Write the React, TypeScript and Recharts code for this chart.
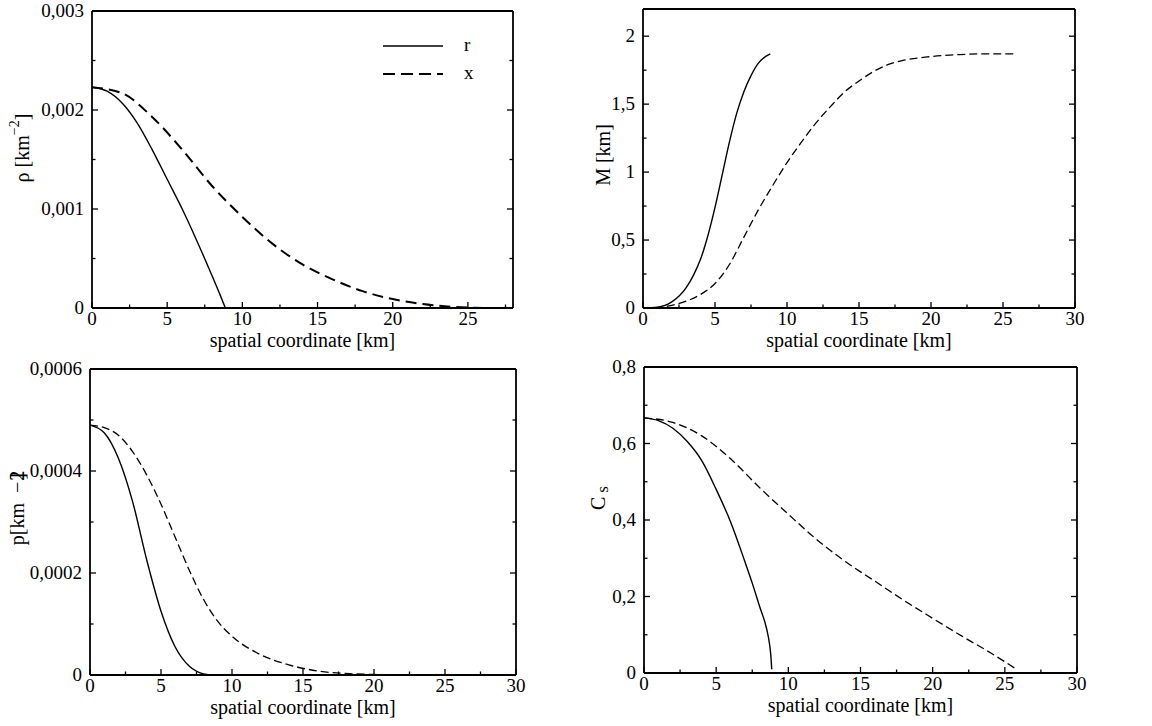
import React from "react"
import { LineChart, Line, XAxis, YAxis, Legend } from "recharts"

const FONT = '"Liberation Serif", "Times New Roman", Times, serif'

// spatial coordinate [km] and values

// density rho
const rhoRKm = [0, 1, 2, 3, 4, 5, 6, 7, 8, 8.5, 8.87]
const rhoRVal = [0.00223, 0.00219, 0.00207, 0.00187, 0.0016, 0.0013, 0.001, 0.00067, 0.00032, 0.00014, 0]
const rhoXKm = [0, 2, 4, 6, 8, 10, 12, 14, 16, 18, 20, 22, 24, 26]
const rhoXVal = [0.00223, 0.00217, 0.00193, 0.0016, 0.00123, 0.00092, 0.00065, 0.00044, 0.00029, 0.00017, 0.00009, 0.00004, 0.000012, 0]

// mass M
const mRKm = [0, 1, 2, 3, 3.5, 4, 4.5, 5, 5.5, 6, 6.5, 7, 7.5, 8, 8.5, 8.84]
const mRVal = [0, 0.006, 0.045, 0.15, 0.24, 0.36, 0.53, 0.74, 0.98, 1.22, 1.43, 1.59, 1.71, 1.8, 1.85, 1.87]
const mXKm = [0, 1, 2, 3, 4, 5, 6, 7, 8, 9, 10, 11, 12, 13, 14, 15, 16, 17, 18, 20, 22, 24, 25.9]
const mXVal = [0, 0.003, 0.02, 0.05, 0.1, 0.18, 0.32, 0.52, 0.72, 0.9, 1.07, 1.22, 1.36, 1.48, 1.59, 1.67, 1.74, 1.79, 1.82, 1.85, 1.865, 1.87, 1.87]

// pressure p
const pRKm = [0, 1, 2, 3, 4, 5, 6, 7, 8, 8.5]
const pRVal = [0.00049, 0.000475, 0.000425, 0.00034, 0.000225, 0.000125, 0.000055, 0.000017, 0.000002, 0]
const pXKm = [0, 1, 2, 3, 4, 5, 6, 7, 8, 9, 10, 12, 14, 16, 18, 20, 22, 25.9]
const pXVal = [0.00049, 0.000485, 0.00047, 0.000438, 0.000392, 0.000335, 0.00027, 0.000205, 0.000148, 0.000105, 0.000076, 0.00004, 0.00002, 0.000008, 0.000003, 0.000001, 0, 0]

// sound speed C_s
const csRKm = [0, 1, 2, 3, 4, 5, 6, 7, 7.5, 8, 8.5, 8.7, 8.8, 8.85]
const csRVal = [0.667, 0.66, 0.64, 0.605, 0.555, 0.48, 0.395, 0.29, 0.235, 0.175, 0.115, 0.075, 0.04, 0.01]
const csXKm = [0, 2, 4, 6, 8, 10, 12, 14, 16, 18, 20, 22, 24, 25.8]
const csXVal = [0.667, 0.655, 0.62, 0.56, 0.485, 0.415, 0.348, 0.29, 0.24, 0.19, 0.143, 0.097, 0.053, 0.01]

// ticks (all) and labelled ticks
const x28Ticks = [0, 2.5, 5, 7.5, 10, 12.5, 15, 17.5, 20, 22.5, 25, 27.5]
const x30Ticks = [0, 2.5, 5, 7.5, 10, 12.5, 15, 17.5, 20, 22.5, 25, 27.5, 30]
const xMajor = [0, 5, 10, 15, 20, 25, 30]
const rhoTicks = [0, 0.0005, 0.001, 0.0015, 0.002, 0.0025, 0.003]
const rhoMajor = [0, 0.001, 0.002, 0.003]
const mTicks = [0, 0.25, 0.5, 0.75, 1, 1.25, 1.5, 1.75, 2]
const mMajor = [0, 0.5, 1, 1.5, 2]
const pTicks = [0, 0.0001, 0.0002, 0.0003, 0.0004, 0.0005, 0.0006]
const pMajor = [0, 0.0002, 0.0004, 0.0006]
const csTicks = [0, 0.1, 0.2, 0.3, 0.4, 0.5, 0.6, 0.7, 0.8]
const csMajor = [0, 0.2, 0.4, 0.6, 0.8]

const zip = (xs: number[], vs: number[]) => xs.map((x, i) => ({ x, v: vs[i] }))
const fmt = (v: number) => String(v).replace(".", ",")

function AxisTick(props: any) {
  const { x, y, payload, side, majors, showLabel } = props
  const val = payload.value
  const major = majors.some((m: number) => Math.abs(m - val) < 1e-12)
  const len = major ? 6 : 3.5
  const st = { stroke: "#000", strokeWidth: 1.3 }
  const txt = { fontFamily: FONT, fontSize: 19, fill: "#000" }
  if (side === "bottom") {
    return (
      <g>
        <line x1={x} x2={x} y1={y} y2={y - len} {...st} />
        {major && showLabel && (
          <text x={x} y={y + 17} textAnchor="middle" {...txt}>{fmt(val)}</text>
        )}
      </g>
    )
  }
  if (side === "top") {
    return <line x1={x} x2={x} y1={y} y2={y + len} {...st} />
  }
  if (side === "left") {
    return (
      <g>
        <line x1={x} x2={x + len} y1={y} y2={y} {...st} />
        {major && showLabel && (
          <text x={x - 8} y={y + 6} textAnchor="end" {...txt}>{fmt(val)}</text>
        )}
      </g>
    )
  }
  return <line x1={x} x2={x - len} y1={y} y2={y} {...st} />
}

const axisLine = { stroke: "#000", strokeWidth: 1.8 }

interface PanelProps {
  left: number
  top: number
  margin: { top: number; right: number }
  yWidth: number
  xHeight: number
  xDomain: number[]
  xTicks: number[]
  yDomain: number[]
  yTicks: number[]
  yMajor: number[]
  solid: { x: number; v: number }[]
  dashed: { x: number; v: number }[]
  dash: string
  dashWidth: number
  title: React.ReactNode
  titleX: number
  titleY: number
  legend?: boolean
}

function LegendBox() {
  return (
    <svg width={110} height={60} style={{ overflow: "visible" }}>
      <line x1={4} x2={64} y1={16} y2={16} stroke="#000" strokeWidth={1.3} />
      <text x={85} y={21} fontFamily={FONT} fontSize={19}>r</text>
      <line x1={4} x2={64} y1={44} y2={44} stroke="#000" strokeWidth={2} strokeDasharray="12 6" />
      <text x={85} y={49} fontFamily={FONT} fontSize={19}>x</text>
    </svg>
  )
}

function Panel(p: PanelProps) {
  return (
    <div style={{ position: "absolute", left: p.left, top: p.top }}>
      <LineChart
        width={576}
        height={363}
        margin={{ top: p.margin.top - 1, right: p.margin.right - 1, bottom: 0, left: 0 }}
      >
        <XAxis
          xAxisId="b"
          dataKey="x"
          type="number"
          domain={p.xDomain}
          ticks={p.xTicks}
          interval={0}
          allowDataOverflow
          height={p.xHeight}
          tickSize={0}
          tickMargin={0}
          tickLine={false}
          axisLine={axisLine}
          tick={<AxisTick side="bottom" majors={xMajor} showLabel />}
          label={{
            content: ({ viewBox }: any) => (
              <text
                x={viewBox.x + viewBox.width / 2}
                y={viewBox.y + 39}
                textAnchor="middle"
                fontFamily={FONT}
                fontSize={20}
                fill="#000"
              >
                spatial coordinate [km]
              </text>
            ),
          }}
        />
        <XAxis
          xAxisId="t"
          orientation="top"
          type="number"
          domain={p.xDomain}
          ticks={p.xTicks}
          interval={0}
          allowDataOverflow
          height={1}
          tickSize={0}
          tickMargin={0}
          tickLine={false}
          axisLine={axisLine}
          tick={<AxisTick side="top" majors={xMajor} />}
        />
        <YAxis
          yAxisId="l"
          type="number"
          domain={p.yDomain}
          ticks={p.yTicks}
          interval={0}
          allowDataOverflow
          width={p.yWidth}
          tickSize={0}
          tickMargin={0}
          tickLine={false}
          axisLine={axisLine}
          tick={<AxisTick side="left" majors={p.yMajor} showLabel />}
          label={{
            content: () => (
              <text
                x={p.titleX}
                y={p.titleY}
                transform={`rotate(-90 ${p.titleX} ${p.titleY})`}
                textAnchor="middle"
                dominantBaseline="central"
                fontFamily={FONT}
                fontSize={20}
                fill="#000"
              >
                {p.title}
              </text>
            ),
          }}
        />
        <YAxis
          yAxisId="r"
          orientation="right"
          type="number"
          domain={p.yDomain}
          ticks={p.yTicks}
          interval={0}
          allowDataOverflow
          width={1}
          tickSize={0}
          tickMargin={0}
          tickLine={false}
          axisLine={axisLine}
          tick={<AxisTick side="right" majors={p.yMajor} />}
        />
        {p.legend && (
          <Legend
            layout="horizontal"
            verticalAlign="middle"
            align="center"
            content={() => <LegendBox />}
            wrapperStyle={{ left: 379, top: 30, width: 110, height: 60 }}
          />
        )}
        <Line
          xAxisId="b"
          yAxisId="l"
          name="r"
          data={p.solid}
          dataKey="v"
          type="monotone"
          dot={false}
          stroke="#000"
          strokeWidth={1.4}
          isAnimationActive={false}
        />
        <Line
          xAxisId="b"
          yAxisId="l"
          name="x"
          data={p.dashed}
          dataKey="v"
          type="monotone"
          dot={false}
          stroke="#000"
          strokeWidth={p.dashWidth}
          strokeDasharray={p.dash}
          isAnimationActive={false}
        />
      </LineChart>
    </div>
  )
}

export default function App() {
  return (
    <div
      style={{
        position: "absolute",
        left: 0,
        top: 0,
        width: 1152,
        height: 726,
        background: "#fff",
        overflow: "hidden",
      }}
    >
      <style>{"svg { overflow: visible; }"}</style>
      <Panel
        left={0}
        top={0}
        margin={{ top: 11, right: 63 }}
        yWidth={92}
        xHeight={55}
        xDomain={[0, 28]}
        xTicks={x28Ticks}
        yDomain={[0, 0.003]}
        yTicks={rhoTicks}
        yMajor={rhoMajor}
        solid={zip(rhoRKm, rhoRVal)}
        dashed={zip(rhoXKm, rhoXVal)}
        dash="11 6"
        dashWidth={2}
        title={
          <>
            ρ [km<tspan dy={-8} fontSize={14}>−2</tspan>
            <tspan dy={8}>]</tspan>
          </>
        }
        titleX={22}
        titleY={148}
        legend
      />
      <Panel
        left={576}
        top={0}
        margin={{ top: 9, right: 77 }}
        yWidth={67}
        xHeight={55}
        xDomain={[0, 30]}
        xTicks={x30Ticks}
        yDomain={[0, 2.2]}
        yTicks={mTicks}
        yMajor={mMajor}
        solid={zip(mRKm, mRVal)}
        dashed={zip(mXKm, mXVal)}
        dash="8 4"
        dashWidth={1.3}
        title="M [km]"
        titleX={27}
        titleY={155}
      />
      <Panel
        left={0}
        top={363}
        margin={{ top: 6, right: 60 }}
        yWidth={90}
        xHeight={51}
        xDomain={[0, 30]}
        xTicks={x30Ticks}
        yDomain={[0, 0.0006]}
        yTicks={pTicks}
        yMajor={pMajor}
        solid={zip(pRKm, pRVal)}
        dashed={zip(pXKm, pXVal)}
        dash="8 4"
        dashWidth={1.3}
        title={
          <>
            p[km<tspan dx={10}>−</tspan>
            <tspan dx={1}>2</tspan>
            <tspan dx={-9}>]</tspan>
          </>
        }
        titleX={17}
        titleY={145}
      />
      <Panel
        left={576}
        top={363}
        margin={{ top: 4, right: 75 }}
        yWidth={68}
        xHeight={53}
        xDomain={[0, 30]}
        xTicks={x30Ticks}
        yDomain={[0, 0.8]}
        yTicks={csTicks}
        yMajor={csMajor}
        solid={zip(csRKm, csRVal)}
        dashed={zip(csXKm, csXVal)}
        dash="8 4"
        dashWidth={1.3}
        title={
          <>
            C<tspan dx={4} dy={4} fontSize={17}>s</tspan>
          </>
        }
        titleX={22}
        titleY={135}
      />
    </div>
  )
}
